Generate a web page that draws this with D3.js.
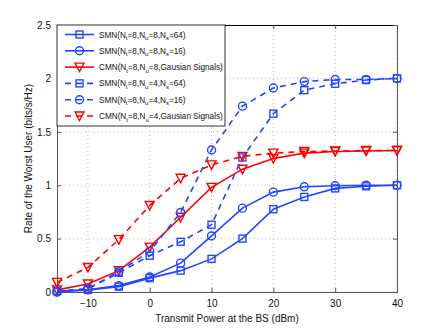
<!DOCTYPE html>
<html>
<head>
<meta charset="utf-8">
<script src="https://cdn.jsdelivr.net/npm/d3@7/dist/d3.min.js"></script>
<style>
  body { margin: 0; background: #fff; }
  svg text { font-family: "Liberation Sans", Arial, sans-serif; }
</style>
</head>
<body>
<div id="chart"></div>
<script>
// transmit power (dBm)
var power = [-15, -10, -5, 0, 5, 10, 15, 20, 25, 30, 35, 40];

var smn8_64 = [0.01, 0.02, 0.05, 0.13, 0.20, 0.31, 0.50, 0.775, 0.89, 0.97, 0.99, 1.0];
var smn8_16 = [0.0, 0.02, 0.06, 0.14, 0.27, 0.525, 0.785, 0.935, 0.985, 0.995, 1.0, 1.0];
var cmn8 = [0.02, 0.075, 0.20, 0.42, 0.70, 0.98, 1.15, 1.25, 1.30, 1.315, 1.32, 1.325];
var smn4_64 = [0.01, 0.03, 0.18, 0.34, 0.47, 0.63, 1.26, 1.67, 1.89, 1.95, 1.985, 2.0];
var smn4_16 = [0.0, 0.03, 0.19, 0.38, 0.745, 1.33, 1.74, 1.91, 1.97, 1.99, 1.99, 2.0];
var cmn4 = [0.09, 0.23, 0.49, 0.81, 1.065, 1.19, 1.27, 1.30, 1.315, 1.32, 1.325, 1.325];

var xTicks = [-10, 0, 10, 20, 30, 40];
var yTicks = [0, 0.5, 1, 1.5, 2, 2.5];

var series = [
    { name: ['SMN(N', 't', '=8,N', 'u', '=8,N', 's', '=64)'], vals: smn8_64, color: '#2346ff', dash: null, marker: 'square' },
    { name: ['SMN(N', 't', '=8,N', 'u', '=8,N', 's', '=16)'], vals: smn8_16, color: '#2346ff', dash: null, marker: 'circle' },
    { name: ['CMN(N', 't', '=8,N', 'u', '=8,Gausian Signals)'], vals: cmn8, color: '#ff0000', dash: null, marker: 'tri' },
    { name: ['SMN(N', 't', '=8,N', 'u', '=4,N', 's', '=64)'], vals: smn4_64, color: '#2346ff', dash: '6,5', marker: 'square' },
    { name: ['SMN(N', 't', '=8,N', 'u', '=4,N', 's', '=16)'], vals: smn4_16, color: '#2346ff', dash: '6,5', marker: 'circle' },
    { name: ['CMN(N', 't', '=8,N', 'u', '=4,Gausian Signals)'], vals: cmn4, color: '#ff0000', dash: '6,5', marker: 'tri' }
];

var width = 438, height = 329;
var margin = { left: 57, top: 25, right: 41, bottom: 37 };

var svg = d3.select('#chart').append('svg')
    .attr('width', width)
    .attr('height', height);

var x = d3.scaleLinear().domain([-15, 40]).range([margin.left, width - margin.right]);
var y = d3.scaleLinear().domain([0, 2.5]).range([height - margin.bottom, margin.top]);

// grid
var grid = svg.append('g');
grid.selectAll('.gx').data(xTicks).enter().append('line')
    .attr('x1', d => x(d)).attr('x2', d => x(d))
    .attr('y1', y(0)).attr('y2', y(2.5))
    .attr('stroke', '#bbb').attr('stroke-width', 1).attr('stroke-dasharray', '1,3');
grid.selectAll('.gy').data(yTicks).enter().append('line')
    .attr('x1', x(-15)).attr('x2', x(40))
    .attr('y1', d => y(d)).attr('y2', d => y(d))
    .attr('stroke', '#bbb').attr('stroke-width', 1).attr('stroke-dasharray', '1,3');

// axes
var xAxis = svg.append('g')
    .attr('transform', 'translate(0,' + y(0) + ')')
    .call(d3.axisBottom(x).tickValues(xTicks).tickSize(-4).tickPadding(8).tickFormat(d => d < 0 ? '\u2212' + Math.abs(d) : d));
var xTop = svg.append('g')
    .attr('transform', 'translate(0,' + y(2.5) + ')')
    .call(d3.axisTop(x).tickValues(xTicks).tickSize(-4).tickFormat(''));
var yAxis = svg.append('g')
    .attr('transform', 'translate(' + x(-15) + ',0)')
    .call(d3.axisLeft(y).tickValues(yTicks).tickSize(-4).tickPadding(6).tickFormat(d3.format('')));
var yRight = svg.append('g')
    .attr('transform', 'translate(' + x(40) + ',0)')
    .call(d3.axisRight(y).tickValues(yTicks).tickSize(-4).tickFormat(''));

[xAxis, xTop, yAxis, yRight].forEach(function (g) {
    g.select('.domain').attr('stroke', '#555');
    g.selectAll('.tick line').attr('stroke', '#555');
    g.selectAll('text').attr('font-size', 10).attr('fill', '#111');
});
xTop.select('.domain').attr('stroke', '#000');

// markers
function drawMarker(g, type, color, cx, cy) {
    if (type === 'square') {
        g.append('rect').attr('x', cx - 3.5).attr('y', cy - 3.5).attr('width', 7).attr('height', 7)
            .attr('fill', 'none').attr('stroke', color).attr('stroke-width', 1.4);
    } else if (type === 'circle') {
        g.append('circle').attr('cx', cx).attr('cy', cy).attr('r', 4)
            .attr('fill', 'none').attr('stroke', color).attr('stroke-width', 1.4);
    } else {
        g.append('path').attr('d', 'M' + (cx - 4.5) + ',' + (cy - 4) + 'L' + (cx + 4.5) + ',' + (cy - 4) + 'L' + cx + ',' + (cy + 4.5) + 'Z')
            .attr('fill', 'none').attr('stroke', color).attr('stroke-width', 1.4);
    }
}

var line = d3.line().x((d, i) => x(power[i])).y(d => y(d));

series.forEach(function (s) {
    var g = svg.append('g');
    g.append('path')
        .attr('d', line(s.vals))
        .attr('fill', 'none')
        .attr('stroke', s.color)
        .attr('stroke-width', 1.6)
        .attr('stroke-dasharray', s.dash);
    s.vals.forEach(function (v, i) {
        drawMarker(g, s.marker, s.color, x(power[i]), y(v));
    });
});

// legend
var lg = svg.append('g');
lg.append('rect')
    .attr('x', x(-15)).attr('y', y(2.5))
    .attr('width', 168).attr('height', 101)
    .attr('fill', '#fff').attr('stroke', '#333').attr('stroke-width', 1);

series.forEach(function (s, i) {
    var ly = 34.5 + i * 16.3;
    lg.append('line')
        .attr('x1', 65).attr('x2', 94).attr('y1', ly).attr('y2', ly)
        .attr('stroke', s.color).attr('stroke-width', 1.6)
        .attr('stroke-dasharray', s.dash);
    drawMarker(lg, s.marker, s.color, 79.5, ly);
    var t = lg.append('text').attr('x', 99).attr('y', ly + 3).attr('font-size', 8.2).attr('fill', '#111');
    s.name.forEach(function (part, k) {
        if (k % 2 === 1) {
            t.append('tspan').attr('font-size', 6).attr('dy', 2.5).text(part);
        } else {
            t.append('tspan').attr('dy', k === 0 ? 0 : -2.5).text(part);
        }
    });
});

// axis titles
svg.append('text')
    .attr('x', (x(-15) + x(40)) / 2).attr('y', 322)
    .attr('text-anchor', 'middle').attr('font-size', 10).attr('fill', '#111')
    .text('Transmit Power at the BS (dBm)');
svg.append('text')
    .attr('transform', 'translate(32,' + y(1.25) + ') rotate(-90)')
    .attr('text-anchor', 'middle').attr('font-size', 10).attr('fill', '#111')
    .text('Rate of the Worst User (bits/s/Hz)');
</script>
</body>
</html>
